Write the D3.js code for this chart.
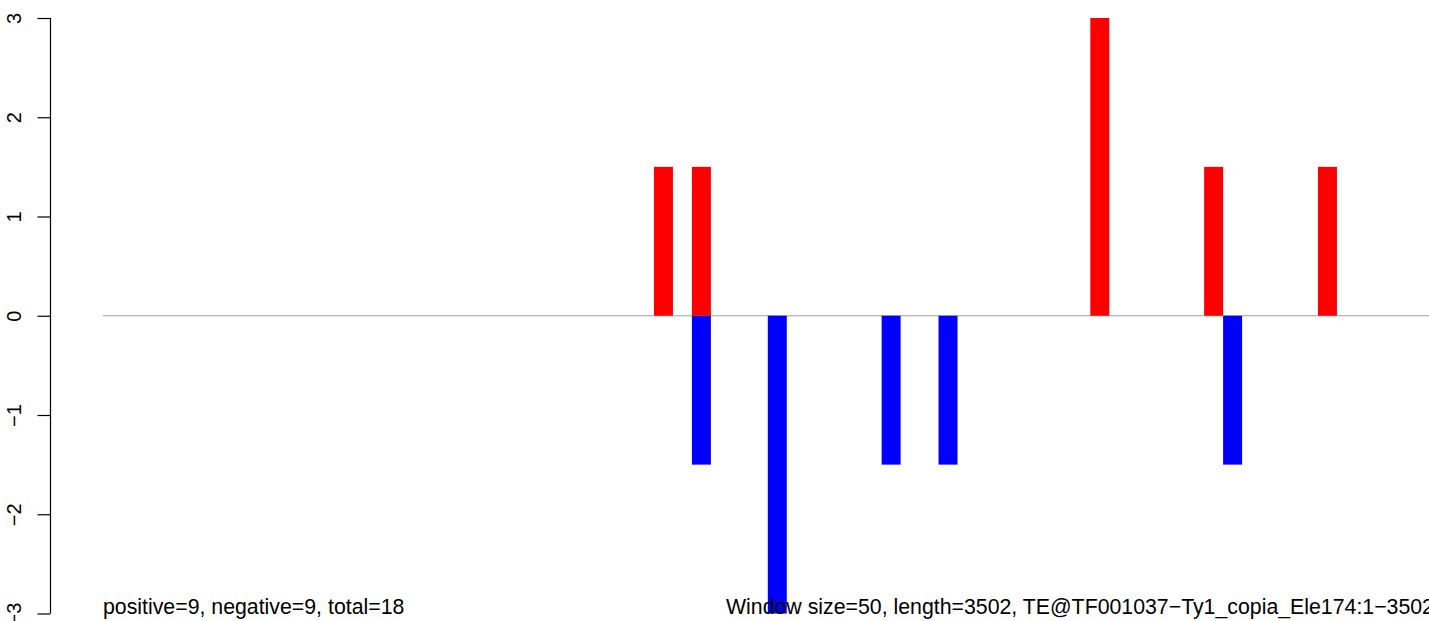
<!DOCTYPE html>
<html>
<head>
<meta charset="utf-8">
<script src="https://cdn.jsdelivr.net/npm/d3@7"></script>
<style>
html,body{margin:0;padding:0;background:#fff;overflow:hidden;}
svg{display:block;font-family:"Liberation Sans",Arial,Helvetica,sans-serif;}
</style>
</head>
<body>
<svg id="chart" width="1429" height="621"></svg>
<script>
// Data (window index along the element, bar value)
const positiveWindows = [29, 31, 52, 58, 64];
const positiveValues  = [1.5, 1.5, 3, 1.5, 1.5];
const negativeWindows = [31, 35, 41, 44, 59];
const negativeValues  = [-1.5, -3, -1.5, -1.5, -1.5];
const yTicks = [-3, -2, -1, 0, 1, 2, 3];
const windowCount = 70;
const leftLabel = "positive=9, negative=9, total=18";
const rightLabel = "Window size=50, length=3502, TE@TF001037\u2212Ty1_copia_Ele174:1\u22123502";

const svg = d3.select("#chart");
const x = d3.scaleLinear().domain([0, windowCount]).range([103.8, 1431.8]);
const y = d3.scaleLinear().domain([-3, 3]).range([613.5, 18]);

// zero line
svg.append("line")
  .attr("x1", x(0) - 1).attr("x2", 1440)
  .attr("y1", y(0)).attr("y2", y(0))
  .attr("stroke", "#a0a0a0").attr("stroke-width", 1.2);

const pos = positiveWindows.map((w, i) => ({w, v: positiveValues[i]}));
const neg = negativeWindows.map((w, i) => ({w, v: negativeValues[i]}));

svg.append("g").selectAll("rect").data(pos).join("rect")
  .attr("x", d => x(d.w)).attr("width", d => x(d.w + 1) - x(d.w))
  .attr("y", d => y(d.v)).attr("height", d => y(0) - y(d.v))
  .attr("fill", "#ff0000");

svg.append("g").selectAll("rect").data(neg).join("rect")
  .attr("x", d => x(d.w)).attr("width", d => x(d.w + 1) - x(d.w))
  .attr("y", y(0)).attr("height", d => y(d.v) - y(0))
  .attr("fill", "#0000ff");

// y axis
const axisX = 50.5;
const ag = svg.append("g").attr("transform", `translate(${axisX},0)`);
const axis = d3.axisLeft(y).tickValues(yTicks).tickSize(13).tickSizeOuter(0)
  .tickFormat(d => d < 0 ? "\u2212" + Math.abs(d) : String(d));
ag.call(axis);
ag.select(".domain").remove();
ag.append("line").attr("x1", 0).attr("x2", 0).attr("y1", y(-3)).attr("y2", y(3))
  .attr("stroke", "#000").attr("stroke-width", 1.2);
ag.selectAll(".tick line").attr("stroke", "#000").attr("stroke-width", 1.2);
ag.selectAll(".tick text")
  .attr("font-size", 20).attr("fill", "#000")
  .attr("font-family", "Liberation Sans, Arial, sans-serif")
  .attr("text-anchor", "middle")
  .attr("dy", null)
  .attr("x", null)
  .attr("transform", "translate(-37,0) rotate(-90)")
  .attr("dominant-baseline", "central");

// bottom annotations
svg.append("text").attr("x", 103).attr("y", 614)
  .attr("font-size", 21.3).attr("fill", "#000").text(leftLabel);
svg.append("text").attr("x", 726).attr("y", 614)
  .attr("font-size", 21.3).attr("fill", "#000").text(rightLabel);
</script>
</body>
</html>
